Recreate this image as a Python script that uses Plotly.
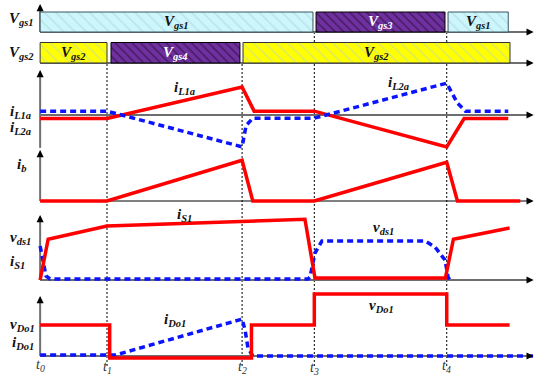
import plotly.graph_objects as go

# switching instants (normalised time)
t_marks = [0, 0.5, 1.51, 2.05, 3.04]
t_names = ['t<sub>0</sub>', 't<sub>1</sub>', 't<sub>2</sub>', 't<sub>3</sub>', 't<sub>4</sub>']

# gate signals: start, end, name
vgs1_start = [0, 2.063, 3.05]
vgs1_end = [2.04, 3.027, 3.5]
vgs1_names = ['gs1', 'gs3', 'gs1']

vgs2_start = [0, 0.53, 1.517]
vgs2_end = [0.5, 1.494, 3.513]
vgs2_names = ['gs2', 'gs4', 'gs2']

# inductor currents
iL1a_t = [0, 0.5, 1.51, 1.6, 2.05, 3.04, 3.17, 3.5]
iL1a_v = [-0.1, -0.1, 0.8, 0.11, 0.11, -0.91, -0.1, -0.1]
iL2a_t = [0, 0.5, 1.51, 1.525, 1.54, 1.59, 2.05, 3.04, 3.12, 3.18, 3.5]
iL2a_v = [0.11, 0.11, -0.91, -0.6, -0.3, -0.09, -0.09, 0.91, 0.34, 0.11, 0.11]

# ib
ib_t = [0, 0.5, 1.51, 1.59, 2.05, 3.04, 3.12, 3.59]
ib_v = [0, 0, 1.02, 0, 0, 0.97, 0, 0]

# switch current / voltage
iS1_t = [0, 0.06, 0.5, 1.98, 2.055, 3.03, 3.09, 3.51]
iS1_v = [0, 1.02, 1.35, 1.52, 0.05, 0.05, 1.02, 1.3]
vds1_t = [0, 0.022, 0.044, 0.074, 2.003, 2.018, 2.055, 2.107, 2.878, 2.952, 3.027, 3.05, 3.064]
vds1_v = [0.85, 0.45, 0.1, 0.025, 0.025, 0.075, 0.675, 0.975, 0.975, 0.825, 0.5, 0.075, 0]

# output diode
vDo1_t = [0, 0.52, 0.52, 1.58, 1.58, 2.05, 2.05, 3.04, 3.04, 3.51]
vDo1_v = [1.03, 1.03, -0.07, -0.07, 1.03, 1.03, 2.07, 2.07, 1.03, 1.03]
iDo1_t = [0, 0.5, 0.56, 1.51, 1.532, 1.554, 1.59, 3.685]
iDo1_v = [0.03, 0.03, 0.03, 1.23, 0.87, 0.27, 0, 0]

W, H = 535, 377
FONT = 'Liberation Serif'
RED = '#ff0000'
BLUE = '#0a14ff'

# panel: (baseline px, px per unit, top px, bottom px)
panels = {
    'y':  (32, 20, 2, 34),
    'y2': (63, 20.5, 38, 66),
    'y3': (115, 35, 66, 152),
    'y4': (201, 40, 146, 206),
    'y5': (280, 40, 210, 286),
    'y6': (356, 30, 290, 366),
}

bar_style = {
    'gs1': dict(bg='#ccf6fb', fg='#a3cbd6', size=8, sol=0.18, line='#3a5560', txt='#111111'),
    'gs2': dict(bg='#ffff00', fg='#b4d2d4', size=8, sol=0.18, line='#333333', txt='#111111'),
    'gs3': dict(bg='#7030a0', fg='#150820', size=6, sol=0.25, line='#000000', txt='#ffffff'),
    'gs4': dict(bg='#7030a0', fg='#150820', size=6, sol=0.25, line='#000000', txt='#ffffff'),
}

fig = go.Figure()
annotations = []

def add_bars(starts, ends, names, yref):
    for s, e, n in zip(starts, ends, names):
        st = bar_style[n]
        fig.add_trace(go.Bar(
            x=[e - s], base=[s], y=[0.5], width=[1], orientation='h',
            yaxis=yref,
            marker=dict(color=st['bg'],
                        pattern=dict(shape='\\', fgcolor=st['fg'], bgcolor=st['bg'],
                                     size=st['size'], solidity=st['sol']),
                        line=dict(color=st['line'], width=1)),
            hoverinfo='skip'))
        annotations.append(dict(
            x=(s + e) / 2, y=0.5, xref='x', yref=yref, showarrow=False,
            text=f'<b><i>V<sub>{n}</sub></i></b>',
            font=dict(family=FONT, size=15, color=st['txt'])))

add_bars(vgs1_start, vgs1_end, vgs1_names, 'y')
add_bars(vgs2_start, vgs2_end, vgs2_names, 'y2')

def add_wave(t, v, yref, color, dashed=False):
    fig.add_trace(go.Scatter(
        x=t, y=v, mode='lines', yaxis=yref,
        line=dict(color=color, width=3.5, dash='6px,4px' if dashed else 'solid'),
        hoverinfo='skip'))

add_wave(iL1a_t, iL1a_v, 'y3', RED)
add_wave(iL2a_t, iL2a_v, 'y3', BLUE, True)
add_wave(ib_t, ib_v, 'y4', RED)
add_wave(vds1_t, vds1_v, 'y5', BLUE, True)
add_wave(iS1_t, iS1_v, 'y5', RED)
add_wave(iDo1_t, iDo1_v, 'y6', BLUE, True)
add_wave(vDo1_t, vDo1_v, 'y6', RED)

shapes = []
# horizontal axes with arrow heads
for ref in panels:
    lw = 1 if ref == 'y4' else 1.8
    lc = '#000000' if ref == 'y4' else '#6e6e6e'
    shapes.append(dict(type='line', xref='x', yref=ref, x0=0, x1=3.66, y0=0, y1=0,
                       line=dict(color=lc, width=lw), layer='below'))
    annotations.append(dict(x=3.69, y=0, ax=3.63, ay=0, xref='x', yref=ref,
                            axref='x', ayref=ref, text='', showarrow=True,
                            arrowhead=2, arrowsize=1.1, arrowwidth=1.3, arrowcolor='black'))

# vertical axes (bottom, top) in panel units
vaxes = {'y': (0, 1.4), 'y3': (-0.94, 1.286), 'y4': (0, 1.275), 'y5': (0, 1.625), 'y6': (0, 2.0)}
for ref, (b, tp) in vaxes.items():
    unit = panels[ref][1]
    shapes.append(dict(type='line', xref='x', yref=ref, x0=0, x1=0, y0=b, y1=tp - 4 / unit,
                       line=dict(color='#707070', width=2), layer='below'))
    annotations.append(dict(x=0, y=tp, ax=0, ay=tp - 6 / unit, xref='x', yref=ref,
                            axref='x', ayref=ref, text='', showarrow=True,
                            arrowhead=2, arrowsize=1.1, arrowwidth=1.3, arrowcolor='black'))

# dotted timing lines
dot_top = [None, 64, 64, 33, 33]
for tm, top in zip(t_marks, dot_top):
    if top is None:
        continue
    shapes.append(dict(type='line', xref='x', yref='paper', x0=tm, x1=tm,
                       y0=1 - 366 / H, y1=1 - top / H,
                       line=dict(color='black', width=1, dash='2px,2px'), layer='below'))

# time labels (paper y, below the last panel)
t_label_y = [365, 367, 367, 368, 366]
for tm, name, ypx in zip(t_marks, t_names, t_label_y):
    annotations.append(dict(x=tm, y=1 - ypx / H, xref='x', yref='paper', showarrow=False,
                            yanchor='middle', text=f'<i>{name}</i>', borderpad=0,
                            font=dict(family=FONT, size=14, color='#333333')))

# left-side signal names: (x, y, panel, text)
left_labels = [
    (-0.248, 0.65, 'y', 'V<sub>gs1</sub>'),
    (-0.248, 0.49, 'y2', 'V<sub>gs2</sub>'),
    (-0.24, 0.086, 'y3', 'i<sub>L1a</sub>'),
    (-0.24, -0.37, 'y3', 'i<sub>L2a</sub>'),
    (-0.188, 0.9, 'y4', 'i<sub>b</sub>'),
    (-0.24, 1.05, 'y5', 'v<sub>ds1</sub>'),
    (-0.24, 0.45, 'y5', 'i<sub>S1</sub>'),
    (-0.24, 1.033, 'y6', 'v<sub>Do1</sub>'),
    (-0.225, 0.433, 'y6', 'i<sub>Do1</sub>'),
]
for x, y, ref, txt in left_labels:
    annotations.append(dict(x=x, y=y, xref='x', yref=ref, xanchor='left', showarrow=False,
                            text=f'<b><i>{txt}</i></b>',
                            font=dict(family=FONT, size=15, color='#111111')))

# waveform names inside the plot
wave_labels = [
    (1.076, 0.77, 'y3', 'i<sub>L1a</sub>'),
    (2.676, 0.91, 'y3', 'i<sub>L2a</sub>'),
    (1.083, 1.63, 'y5', 'i<sub>S1</sub>'),
    (2.564, 1.3, 'y5', 'v<sub>ds1</sub>'),
    (1.008, 1.2, 'y6', 'i<sub>Do1</sub>'),
    (2.556, 1.667, 'y6', 'v<sub>Do1</sub>'),
]
for x, y, ref, txt in wave_labels:
    annotations.append(dict(x=x, y=y, xref='x', yref=ref, showarrow=False,
                            text=f'<b><i>{txt}</i></b>',
                            font=dict(family=FONT, size=15, color='#111111')))

layout = dict(
    width=W, height=H,
    margin=dict(l=0, r=0, t=0, b=0),
    paper_bgcolor='white',
    plot_bgcolor='rgba(0,0,0,0)',
    showlegend=False,
    barmode='overlay',
    xaxis=dict(range=[-0.3, 3.7], domain=[0, 1], visible=False, fixedrange=True),
    shapes=shapes,
    annotations=annotations,
)
for ref, (base, unit, top, bottom) in panels.items():
    key = 'yaxis' if ref == 'y' else 'yaxis' + ref[1:]
    layout[key] = dict(domain=[1 - bottom / H, 1 - top / H],
                       range=[(base - bottom) / unit, (base - top) / unit],
                       visible=False, anchor='x', fixedrange=True)

fig.update_layout(**layout)
fig.write_html("out.html", config={'displayModeBar': False},
               post_script="document.body.style.margin='0';")
